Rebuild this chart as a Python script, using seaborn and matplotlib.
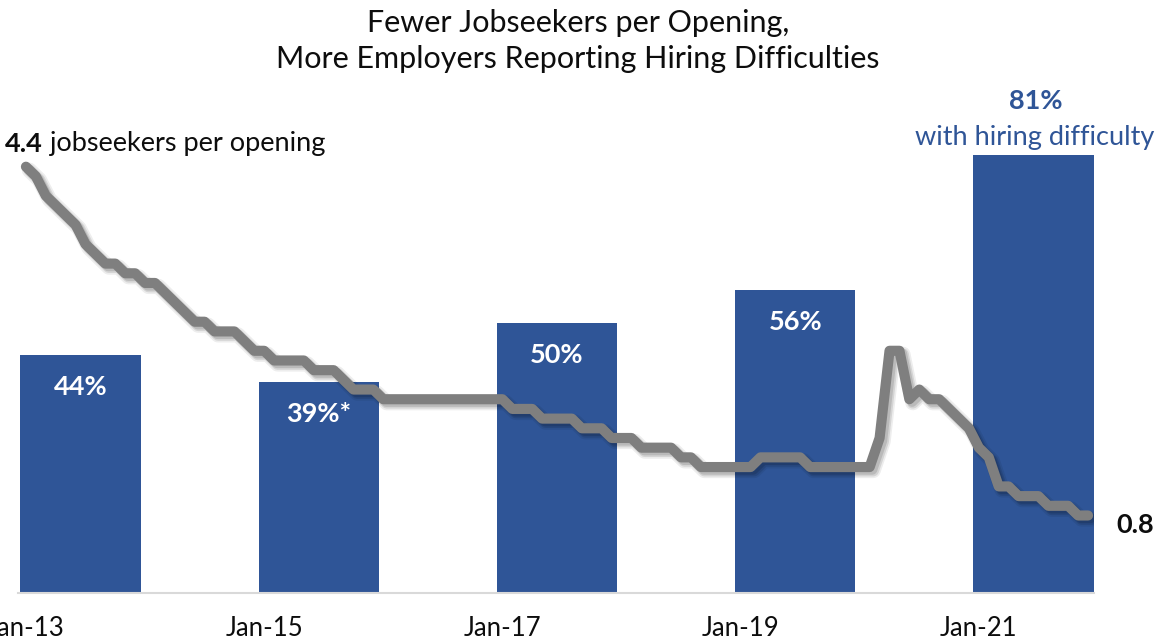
import numpy as np
import pandas as pd
import matplotlib
matplotlib.use("Agg")
import matplotlib.pyplot as plt
import matplotlib.patheffects as pe
import seaborn as sns

# ---- data -------------------------------------------------------------
ratio_start = "2013-01-01"
# Jobseekers per job opening, monthly (Jan 2013 - Dec 2021)
jobseekers_per_opening = [
    4.4, 4.3, 4.1, 4.0, 3.9, 3.8, 3.6, 3.5, 3.4, 3.4, 3.3, 3.3,  # 2013
    3.2, 3.2, 3.1, 3.0, 2.9, 2.8, 2.8, 2.7, 2.7, 2.7, 2.6, 2.5,  # 2014
    2.5, 2.4, 2.4, 2.4, 2.4, 2.3, 2.3, 2.3, 2.2, 2.1, 2.1, 2.1,  # 2015
    2.0, 2.0, 2.0, 2.0, 2.0, 2.0, 2.0, 2.0, 2.0, 2.0, 2.0, 2.0,  # 2016
    2.0, 1.9, 1.9, 1.9, 1.8, 1.8, 1.8, 1.8, 1.7, 1.7, 1.7, 1.6,  # 2017
    1.6, 1.6, 1.5, 1.5, 1.5, 1.5, 1.4, 1.4, 1.3, 1.3, 1.3, 1.3,  # 2018
    1.3, 1.3, 1.4, 1.4, 1.4, 1.4, 1.4, 1.3, 1.3, 1.3, 1.3, 1.3,  # 2019
    1.3, 1.3, 1.6, 2.5, 2.5, 2.0, 2.1, 2.0, 2.0, 1.9, 1.8, 1.7,  # 2020
    1.5, 1.4, 1.1, 1.1, 1.0, 1.0, 1.0, 0.9, 0.9, 0.9, 0.8, 0.8,  # 2021
]

# Share of employers reporting hiring difficulty (survey years)
survey_years = [2013, 2015, 2017, 2019, 2021]
pct_hiring_difficulty = [44, 39, 50, 56, 81]
bar_labels = ["44%", "39%*", "50%", "56%", "81%"]
tick_labels = ["Jan-13", "Jan-15", "Jan-17", "Jan-19", "Jan-21"]

title_text = "Fewer Jobseekers per Opening,\nMore Employers Reporting Hiring Difficulties"

# ---- style ------------------------------------------------------------
BAR_BLUE = "#2F5597"
LINE_GRAY = "#7F7F7F"
TEXT_DARK = "#0D0D0D"
LABEL_SIZE = 19.5

sns.set_theme(style="white")
plt.rcParams["font.family"] = ["Lato", "DejaVu Sans"]

# month index since Jan 2013
months = pd.date_range(ratio_start, periods=len(jobseekers_per_opening), freq="MS")
first = months[0]
month_idx = np.array([(d.year - first.year) * 12 + (d.month - first.month) for d in months])
ratio_df = pd.DataFrame({"month": month_idx, "ratio": jobseekers_per_opening})

bar_df = pd.DataFrame({
    "center": [(y - first.year) * 12 + 5.5 for y in survey_years],
    "pct": pct_hiring_difficulty,
})
tick_pos = [(y - first.year) * 12 for y in survey_years]

# ---- figure -----------------------------------------------------------
W, H = 1156, 642
fig = plt.figure(figsize=(W / 100, H / 100), dpi=100)
ax_left, ax_right = 18, 1094
ax_bottom, ax_top = 593, 80
ax = fig.add_axes([ax_left / W, 1 - ax_bottom / H,
                   (ax_right - ax_left) / W, (ax_bottom - ax_top) / H])

sns.barplot(data=bar_df, x="center", y="pct", native_scale=True,
            width=12.1 / 24, color=BAR_BLUE, saturation=1, linewidth=0,
            ax=ax, zorder=2)

ax.set_xlim(-0.8, 107.6)
ax.set_ylim(0, 94.9)
ax.set_xticks(tick_pos)
ax.set_xticklabels(tick_labels)
ax.set_yticks([])
ax.set_xlabel("")
ax.set_ylabel("")
ax.tick_params(axis="x", length=0, pad=16.5, labelsize=18.5, labelcolor=TEXT_DARK)
for side in ("top", "left", "right"):
    ax.spines[side].set_visible(False)
ax.spines["bottom"].set_color("#D9D9D9")
ax.spines["bottom"].set_linewidth(1.5)

# labels inside / above bars
for i, row in bar_df.iterrows():
    if i < len(bar_df) - 1:
        ax.annotate(bar_labels[i], xy=(row["center"], row["pct"]),
                    xytext=(0, -23), textcoords="offset points",
                    ha="center", va="center", color="white",
                    fontsize=LABEL_SIZE, fontweight="bold", zorder=3)
    else:
        ax.annotate(bar_labels[i], xy=(row["center"], row["pct"]),
                    xytext=(2, 39), textcoords="offset points",
                    ha="center", va="center", color=BAR_BLUE,
                    fontsize=LABEL_SIZE, fontweight="bold")
        ax.annotate("with hiring difficulty", xy=(row["center"], row["pct"]),
                    xytext=(1, 13), textcoords="offset points",
                    ha="center", va="center", color=BAR_BLUE, fontsize=LABEL_SIZE)

# ---- ratio line on a secondary scale -----------------------------------
ax2 = ax.twinx()
shadow = [
    pe.SimpleLineShadow(offset=(2.5, -2.5), shadow_color="black", alpha=0.07, linewidth=11),
    pe.SimpleLineShadow(offset=(2.5, -2.5), shadow_color="black", alpha=0.10, linewidth=8.5),
    pe.SimpleLineShadow(offset=(2, -2), shadow_color="black", alpha=0.12, linewidth=7),
    pe.Normal(),
]
sns.lineplot(data=ratio_df, x="month", y="ratio", ax=ax2, color=LINE_GRAY,
             linewidth=7.3, solid_joinstyle="round", solid_capstyle="round",
             path_effects=shadow)
ax2.set_ylim(0, 5.295)
ax2.set_xlim(ax.get_xlim())
ax2.set_yticks([])
ax2.set_xlabel("")
ax2.set_ylabel("")
for side in ax2.spines:
    ax2.spines[side].set_visible(False)

# start / end annotations of the ratio
first_val = ratio_df["ratio"].iloc[0]
last_val = ratio_df["ratio"].iloc[-1]
t0 = ax2.annotate(f"{first_val:.1f}", xy=(ratio_df["month"].iloc[0], first_val),
                  xytext=(-15, 16), textcoords="offset points",
                  ha="left", va="center", fontsize=LABEL_SIZE, fontweight="bold",
                  color=TEXT_DARK, annotation_clip=False)
ax2.annotate(" jobseekers per opening", xy=(1, 0), xycoords=t0,
             ha="left", va="bottom", fontsize=LABEL_SIZE, color=TEXT_DARK)
ax2.annotate(f"{last_val:.1f}", xy=(ratio_df["month"].iloc[-1], last_val),
             xytext=(20.5, -6.5), textcoords="offset points",
             ha="left", va="center", fontsize=LABEL_SIZE, fontweight="bold",
             color=TEXT_DARK, annotation_clip=False)

fig.text(0.5, 1 - 41 / H, title_text, ha="center", va="center",
         fontsize=22, color=TEXT_DARK, linespacing=1.33)

fig.savefig("out.png", dpi=100)
